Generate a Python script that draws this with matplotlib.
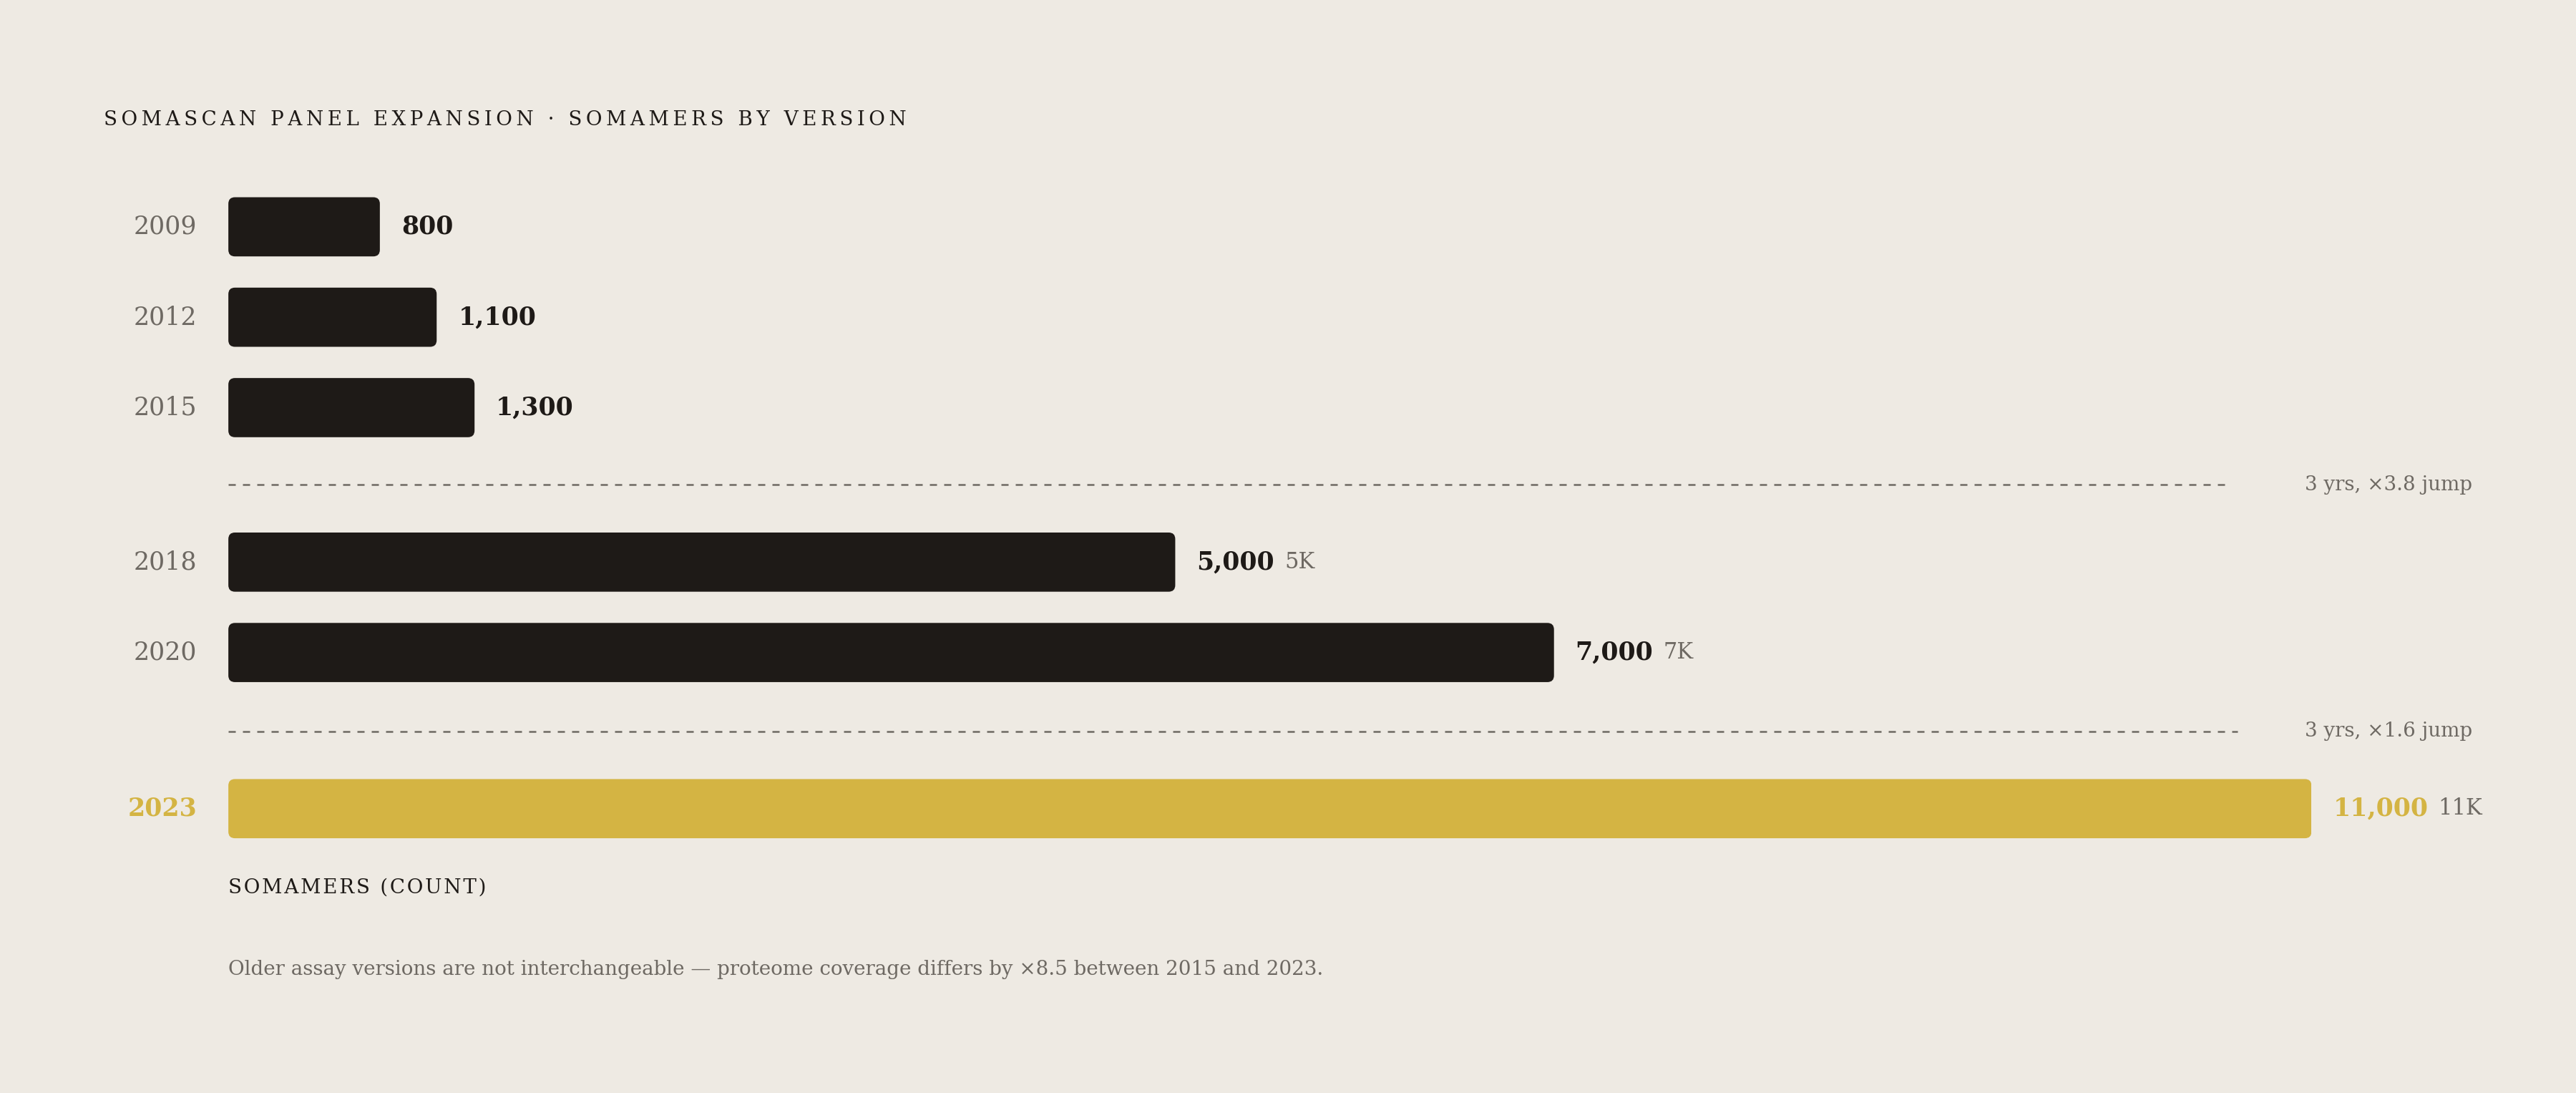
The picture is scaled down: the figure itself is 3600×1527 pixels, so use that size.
import matplotlib
matplotlib.use("Agg")
import matplotlib.pyplot as plt
from matplotlib.patches import FancyBboxPatch

years = ["2009", "2012", "2015", "2018", "2020", "2023"]
values = [800, 1100, 1300, 5000, 7000, 11000]
short = [None, None, None, "5K", "7K", "11K"]
jumps = ["3 yrs, ×3.8 jump", "3 yrs, ×1.6 jump"]

BG = "#EEEAE3"; DARK = "#1E1A17"; GOLD = "#D4B443"; GRAY = "#6E6963"
FONT = ["DejaVu Serif"]
plt.rcParams['font.family'] = FONT

W, H = 1568, 665
fig = plt.figure(figsize=(36, 15.27), dpi=100, facecolor=BG)
# overlay axes in display-pixel coords
ov = fig.add_axes([0, 0, 1, 1]); ov.set_xlim(0, W); ov.set_ylim(H, 0); ov.axis("off")
ov.patch.set_alpha(0)

x0, x1 = 139, 1407
ytop, ybot = 110, 520
ax = fig.add_axes([x0 / W, 1 - ybot / H, (x1 - x0) / W, (ybot - ytop) / H])
ax.set_xlim(0, max(values)); ax.set_ylim(ybot, ytop); ax.axis("off")
ax.patch.set_alpha(0)

rows = [138, 193, 248, 342, 397, 492]
dashes = [295, 445]
bh = 36
xpp = max(values) / (x1 - x0)
for i, (yr, v, s, yc) in enumerate(zip(years, values, short, rows)):
    hl = i == len(years) - 1
    col = GOLD if hl else DARK
    p = FancyBboxPatch((0, yc - bh / 2), v, bh, boxstyle=f"round,pad=0,rounding_size={4*xpp}",
                       mutation_aspect=1 / xpp, fc=col, ec="none")
    ax.add_patch(p)
    ov.text(120, yc, yr, ha="right", va="center", fontsize=25,
            color=GOLD if hl else GRAY, fontweight="bold" if hl else "normal")
    t = ax.annotate(f"{v:,}", (v, yc), xytext=(30, 0), textcoords="offset pixels",
                    ha="left", va="center", fontsize=25, fontweight="bold",
                    color=GOLD if hl else DARK, annotation_clip=False)
    if s:
        fig.canvas.draw()
        bb = t.get_window_extent()
        ax.annotate(s, (bb.x1 + 14, bb.y0 + bb.height / 2), xycoords="figure pixels",
                    ha="left", va="center", fontsize=22, color=GRAY, annotation_clip=False)

ends = [1355, 1362]
for yd, e, lab in zip(dashes, ends, jumps):
    ov.plot([139, e], [yd, yd], ls=(0, (4, 4)), color=GRAY, lw=1.8)
    ov.text(1505, yd, lab, ha="right", va="center", fontsize=20, color=GRAY)

sp = "\u200a"
title = "SOMASCAN PANEL EXPANSION · SOMAMERS BY VERSION"
ov.text(63, 73, (sp*2).join(title), ha="left", va="center", fontsize=20, color=DARK)
ov.text(139, 540, sp.join("SOMAMERS (COUNT)"), ha="left", va="center", fontsize=20, color=DARK)
ov.text(139, 590, "Older assay versions are not interchangeable — proteome coverage differs by ×8.5 between 2015 and 2023.",
        ha="left", va="center", fontsize=20, color=GRAY)

fig.savefig("out.png", dpi=100, facecolor=BG)
